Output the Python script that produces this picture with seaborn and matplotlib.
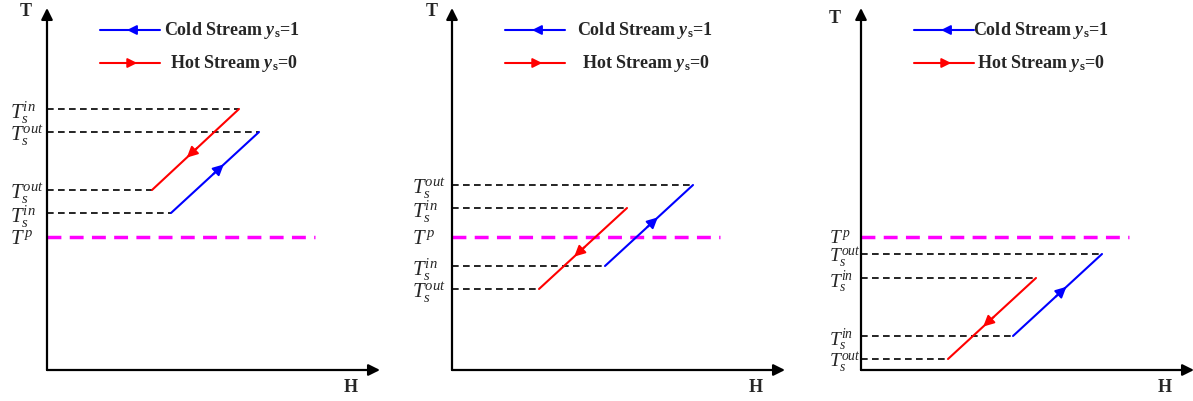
import numpy as np
import pandas as pd
import matplotlib
matplotlib.use('Agg')
import matplotlib.pyplot as plt
import seaborn as sns

# ==============================
# DADOS (3 casos: acima, cruzando, abaixo do pinch)
# ==============================
hot_T_in = [261, 162, 92]
hot_T_out = [180, 81, 11]
hot_H_in = [192, 175, 175]
hot_H_out = [105, 87, 87]

cold_T_in = [157, 104, 34]
cold_T_out = [238, 185, 116]
cold_H_in = [124, 153, 152]
cold_H_out = [212, 241, 241]

T_pinch = 133
pinch_H_end = 268

sns.set_style('white')
plt.rcParams['font.family'] = ['Liberation Serif', 'DejaVu Serif']
plt.rcParams['mathtext.fontset'] = 'custom'
plt.rcParams['mathtext.rm'] = 'Liberation Serif'
plt.rcParams['mathtext.it'] = 'Liberation Serif:italic'
plt.rcParams['mathtext.bf'] = 'Liberation Serif:bold'
plt.rcParams['mathtext.bfit'] = 'Liberation Serif:italic:bold'

BLUE = '#0000ff'
RED = '#ff0000'
MAGENTA = '#ff00ff'

fig = plt.figure(figsize=(11.93, 4.01), dpi=100)
W, Hh = 1193.0, 401.0

# posicao dos eixos em pixels (esquerda, origem y)
axes_px = [(47, 370), (452, 370), (861, 370)]
label_pad = [27, 29, 23]
label_size = [15, 15, 14]
title_x = [-0.063, -0.06, -0.078]
title_y = [0.99, 0.99, 0.97]
leg_text_dx = [[117, 123], [125, 130], [112, 116]]


def mid_arrow(ax, x0, y0, x1, y1, frac, color, scale=16):
    xm = x0 + (x1 - x0) * frac
    ym = y0 + (y1 - y0) * frac
    xb = x0 + (x1 - x0) * (frac - 0.12)
    yb = y0 + (y1 - y0) * (frac - 0.12)
    ax.annotate('', xy=(xm, ym), xytext=(xb, yb),
                arrowprops=dict(arrowstyle='-|>', color=color, lw=1.4,
                                mutation_scale=scale, shrinkA=0, shrinkB=0))


for i in range(3):
    ox, oy = axes_px[i]
    ax = fig.add_axes([ox / W, (Hh - oy) / Hh, 333 / W, 362 / Hh])
    ax.set_xlim(0, 333)
    ax.set_ylim(0, 362)
    for s in ax.spines.values():
        s.set_visible(False)

    # eixos com setas
    ax.annotate('', xy=(1, 0), xytext=(0, 0), xycoords='axes fraction',
                arrowprops=dict(arrowstyle='-|>', color='black', lw=1.6,
                                mutation_scale=17, shrinkA=0, shrinkB=0))
    ax.annotate('', xy=(0, 1), xytext=(0, 0), xycoords='axes fraction',
                arrowprops=dict(arrowstyle='-|>', color='black', lw=1.6,
                                mutation_scale=17, shrinkA=0, shrinkB=0))
    ax.text(title_x[i], title_y[i], 'T', transform=ax.transAxes,
            fontsize=13, fontweight='bold', ha='center', va='center')
    ax.text(0.913, -0.047, 'H', transform=ax.transAxes,
            fontsize=13, fontweight='bold', ha='center', va='center')

    # linhas tracejadas de referencia
    for T, Hend in [(hot_T_in[i], hot_H_in[i]), (hot_T_out[i], hot_H_out[i]),
                    (cold_T_in[i], cold_H_in[i]), (cold_T_out[i], cold_H_out[i])]:
        ax.plot([0, Hend], [T, T], color='black', lw=1.2, dashes=(4, 2.6))
    ax.plot([0, pinch_H_end], [T_pinch, T_pinch], color=MAGENTA, lw=2.5,
            dashes=(4, 2.4))

    # correntes
    hot = pd.DataFrame({'H': [hot_H_in[i], hot_H_out[i]],
                        'T': [hot_T_in[i], hot_T_out[i]]})
    cold = pd.DataFrame({'H': [cold_H_in[i], cold_H_out[i]],
                         'T': [cold_T_in[i], cold_T_out[i]]})
    sns.lineplot(data=hot, x='H', y='T', color=RED, lw=1.5, sort=False, ax=ax)
    sns.lineplot(data=cold, x='H', y='T', color=BLUE, lw=1.5, sort=False, ax=ax)
    mid_arrow(ax, hot_H_in[i], hot_T_in[i], hot_H_out[i], hot_T_out[i], 0.6, RED)
    mid_arrow(ax, cold_H_in[i], cold_T_in[i], cold_H_out[i], cold_T_out[i], 0.6, BLUE)

    # rotulos do eixo T
    ticks = [hot_T_in[i], hot_T_out[i], cold_T_in[i], cold_T_out[i], T_pinch]
    labels = [r'$T_s^{in}$', r'$T_s^{out}$', r'$T_s^{in}$', r'$T_s^{out}$', r'$T^{\,p}$']
    ax.set_yticks(ticks)
    ax.set_yticklabels(labels, fontsize=label_size[i])
    ax.tick_params(axis='y', length=0, pad=label_pad[i])
    for t in ax.get_yticklabels():
        t.set_horizontalalignment('left')
    ax.set_xticks([])
    ax.set_xlabel('')
    ax.set_ylabel('')

    # legenda desenhada
    ax.plot([53, 113], [340, 340], color=BLUE, lw=1.5)
    mid_arrow(ax, 113, 340, 53, 340, 0.55, BLUE, 14)
    ax.plot([53, 113], [307, 307], color=RED, lw=1.5)
    mid_arrow(ax, 53, 307, 113, 307, 0.62, RED, 14)
    ax.text(leg_text_dx[i][0], 340, r'Cold Stream $\mathbfit{y}_{\mathbf{s}}$=1',
            fontsize=13, fontweight='bold', va='center', ha='left')
    ax.text(leg_text_dx[i][1], 307, r'Hot Stream $\mathbfit{y}_{\mathbf{s}}$=0',
            fontsize=13, fontweight='bold', va='center', ha='left')

fig.savefig('out.png', dpi=100)
